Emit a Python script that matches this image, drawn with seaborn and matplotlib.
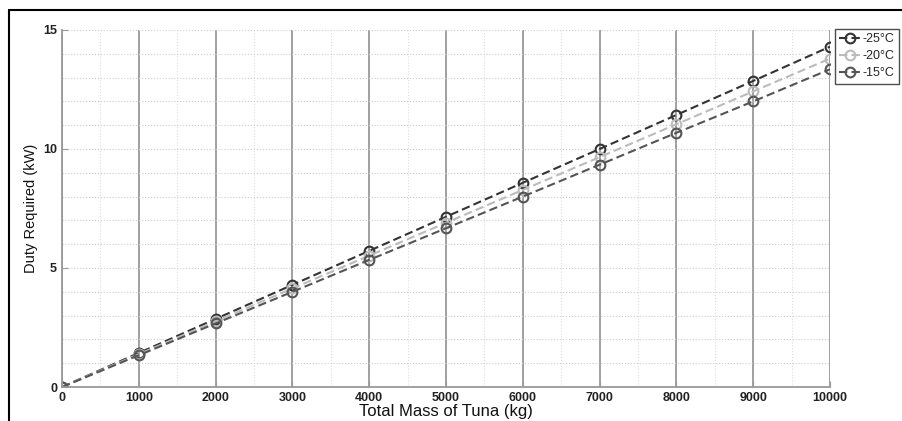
import seaborn as sns
import matplotlib.pyplot as plt
import pandas as pd
import numpy as np
from matplotlib.ticker import MultipleLocator

# mass of tuna (kg) and duty required (kW)
mass = [0, 1000, 2000, 3000, 4000, 5000, 6000, 7000, 8000, 9000, 10000]
duty_m25 = [0, 1.43, 2.86, 4.29, 5.72, 7.15, 8.58, 10.0, 11.43, 12.86, 14.3]
duty_m20 = [0, 1.38, 2.76, 4.14, 5.52, 6.9, 8.28, 9.66, 11.04, 12.42, 13.8]
duty_m15 = [0, 1.335, 2.67, 4.0, 5.34, 6.67, 8.0, 9.34, 10.68, 12.0, 13.35]
labels = ['-25\u00b0C', '-20\u00b0C', '-15\u00b0C']
colors = ['#333333', '#bbbbbb', '#555555']

df = pd.DataFrame({'mass': mass * 3,
                   'duty': duty_m25 + duty_m20 + duty_m15,
                   'temp': np.repeat(labels, len(mass))})

sns.set_style('white')
plt.rcParams['font.family'] = ['Liberation Sans', 'DejaVu Sans']

fig = plt.figure(figsize=(9.03, 4.21), dpi=100)
ax = fig.add_axes([62 / 903, 1 - 387 / 421, (830 - 62) / 903, (387 - 30) / 421])

sns.lineplot(data=df, x='mass', y='duty', hue='temp', palette=colors,
             marker='o', markersize=7, markerfacecolor='none',
             markeredgewidth=1.5, linewidth=1.5, legend=False, ax=ax)
lines = ax.get_lines()[:3]
for line, c in zip(lines, colors):
    line.set_dashes([4, 2])
    line.set_markeredgecolor(c)

ax.set_xlim(0, 10000)
ax.set_ylim(0, 15)
ax.xaxis.set_major_locator(MultipleLocator(1000))
ax.xaxis.set_minor_locator(MultipleLocator(500))
ax.yaxis.set_major_locator(MultipleLocator(5))
ax.yaxis.set_minor_locator(MultipleLocator(1))
ax.grid(True, which='major', axis='x', color='#999999', linewidth=1.3)
ax.grid(True, which='minor', axis='x', color='#dddddd', linestyle=':', linewidth=0.8)
ax.grid(True, which='both', axis='y', color='#cccccc', linestyle=':', linewidth=0.8)
ax.set_axisbelow(True)

for s in ['top', 'right']:
    ax.spines[s].set_visible(False)
for s in ['left', 'bottom']:
    ax.spines[s].set_color('#999999')
    ax.spines[s].set_linewidth(1.3)
ax.tick_params(axis='both', which='major', direction='in', length=4, color='#999999',
               labelsize=9, labelcolor='#222222', left=True, bottom=True)
for t in ax.get_xticklabels() + ax.get_yticklabels():
    t.set_fontweight('semibold')

ax.set_xlabel('Total Mass of Tuna (kg)', fontsize=12, labelpad=0, color='#111111')
ax.set_ylabel('Duty Required (kW)', fontsize=10.5, labelpad=4, color='#111111')

leg = ax.legend(handles=lines, labels=labels, loc='upper left',
                bbox_to_anchor=(1.003, 1.01), frameon=True,
                fontsize=9, handlelength=1.8, borderpad=0.35, labelspacing=0.4,
                handletextpad=0.1, fancybox=False, borderaxespad=0.2)
leg.get_frame().set_edgecolor('#222222')
leg.get_frame().set_linewidth(1.0)

# border of the original image
fig.add_artist(plt.Line2D([9 / 903, 9 / 903], [0, 1 - 10 / 421], color='black', linewidth=1.5))
fig.add_artist(plt.Line2D([9 / 903, 1], [1 - 10 / 421, 1 - 10 / 421], color='black', linewidth=1.5))

fig.savefig('out.png', dpi=100)
